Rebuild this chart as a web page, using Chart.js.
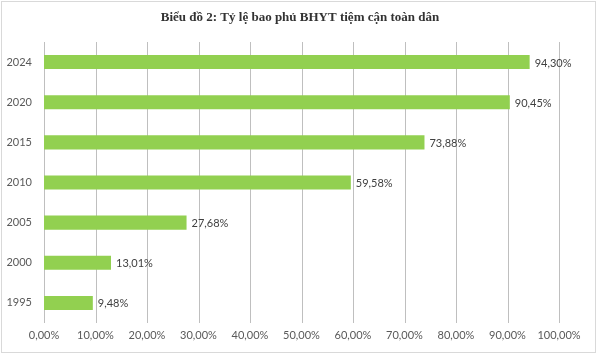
<!DOCTYPE html>
<html>
<head>
<meta charset="utf-8">
<script src="https://cdn.jsdelivr.net/npm/chart.js@4"></script>
<style>
html,body{margin:0;padding:0;background:#fff;}
#wrap{width:600px;height:355px;position:relative;}
</style>
</head>
<body>
<div id="wrap"><canvas id="c" width="600" height="355"></canvas></div>
<script>
const titleText = "Biểu đồ 2: Tỷ lệ bao phủ BHYT tiệm cận toàn dân";
const years = ["2024", "2020", "2015", "2010", "2005", "2000", "1995"];
const coverage = [94.30, 90.45, 73.88, 59.58, 27.68, 13.01, 9.48];
const xTicks = [0, 10, 20, 30, 40, 50, 60, 70, 80, 90, 100];

const fmt = v => v.toFixed(2).replace('.', ',') + '%';
const labelFont = "Lato, 'Liberation Sans', sans-serif";

const decor = {
  id: 'decor',
  beforeDraw(chart) {
    const ctx = chart.ctx;
    ctx.save();
    ctx.fillStyle = '#fff';
    ctx.fillRect(0, 0, chart.width, chart.height);
    ctx.strokeStyle = '#d9d9d9';
    ctx.lineWidth = 1;
    ctx.strokeRect(1.5, 1.5, 594, 351);
    ctx.restore();
  },
  beforeDatasetsDraw(chart) {
    const ctx = chart.ctx;
    const xs = chart.scales.x;
    const area = chart.chartArea;
    ctx.save();
    ctx.strokeStyle = '#bfbfbf';
    ctx.lineWidth = 1;
    xTicks.forEach(v => {
      const px = Math.round(xs.getPixelForValue(v)) + 0.5;
      ctx.beginPath();
      ctx.moveTo(px, area.top);
      ctx.lineTo(px, area.bottom);
      ctx.stroke();
    });
    ctx.restore();
  },
  afterDraw(chart) {
    const ctx = chart.ctx;
    ctx.save();
    ctx.fillStyle = '#333333';
    ctx.font = "bold 13px 'Liberation Serif', 'Times New Roman', serif";
    ctx.textAlign = 'center';
    ctx.textBaseline = 'middle';
    ctx.fillText(titleText, 300, 18);
    const meta = chart.getDatasetMeta(0);
    ctx.font = "11px " + labelFont;
    ctx.fillStyle = '#404040';
    ctx.textAlign = 'left';
    meta.data.forEach((bar, i) => {
      ctx.fillText(fmt(coverage[i]), bar.x + 5, bar.y + 1);
    });
    ctx.restore();
  }
};

new Chart(document.getElementById('c'), {
  type: 'bar',
  data: {
    labels: years,
    datasets: [{
      data: coverage,
      backgroundColor: '#92D050',
      borderWidth: 0,
      categoryPercentage: 1,
      barPercentage: 0.35
    }]
  },
  options: {
    indexAxis: 'y',
    responsive: false,
    animation: false,
    layout: { padding: { top: 42, right: 41, left: 0, bottom: 0 } },
    plugins: { legend: { display: false }, tooltip: { enabled: false }, title: { display: false } },
    scales: {
      x: {
        min: 0, max: 100,
        afterBuildTicks(axis) { axis.ticks = xTicks.map(v => ({ value: v })); },
        afterFit(axis) { axis.height = 32; },
        grid: { display: false, drawTicks: false },
        border: { display: false },
        ticks: {
          padding: 6,
          color: '#595959',
          font: { family: labelFont, size: 11 },
          callback: v => fmt(v)
        }
      },
      y: {
        afterFit(axis) { axis.width = 44; },
        grid: { display: false, drawTicks: false },
        border: { display: false },
        ticks: {
          padding: 12,
          color: '#595959',
          font: { family: labelFont, size: 11 }
        }
      }
    }
  },
  plugins: [decor]
});
</script>
</body>
</html>
